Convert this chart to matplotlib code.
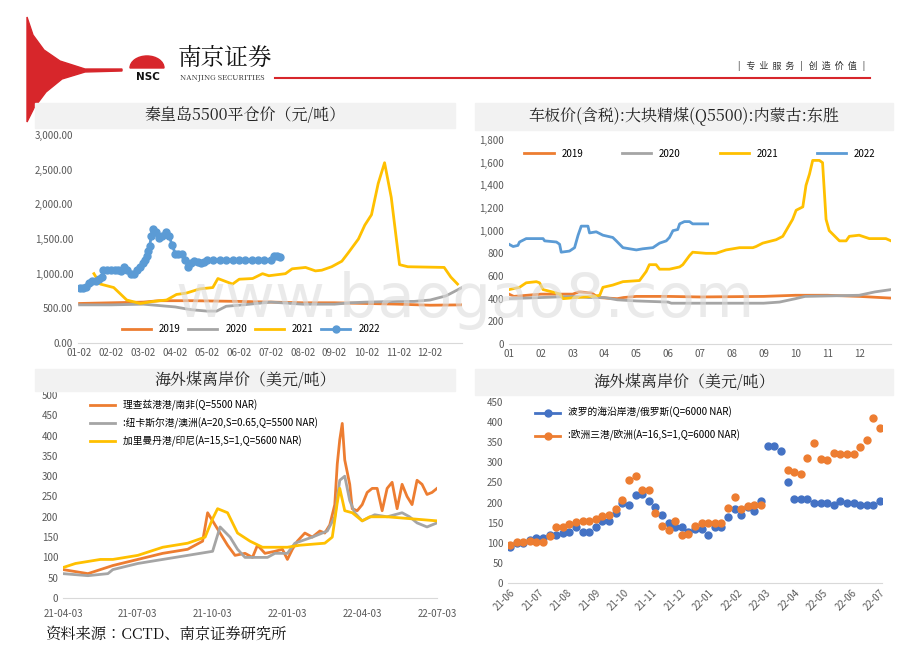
import matplotlib
matplotlib.use("Agg")
import matplotlib.pyplot as plt
from matplotlib import font_manager as fm
import numpy as np
from matplotlib.patches import Rectangle, Polygon, Wedge
from matplotlib.ticker import FuncFormatter

sans_name, serif_fp = None, None
for f in sorted(fm.findSystemFonts()):
    if 'CJK' not in f:
        continue
    if sans_name is None and 'Sans' in f and 'Regular' in f:
        try:
            fm.fontManager.addfont(f)
            sans_name = fm.FontProperties(fname=f).get_name()
        except Exception:
            pass
    if serif_fp is None and 'Serif' in f and 'Regular' in f:
        serif_fp = f
plt.rcParams['font.family'] = [n for n in [sans_name, 'Noto Sans CJK SC', 'DejaVu Sans'] if n]
TITLE_KW = {'fontproperties': fm.FontProperties(fname=serif_fp)} if serif_fp else {}

C_OR, C_GR, C_YE, C_BL = '#ED7D31', '#A5A5A5', '#FFC000', '#5B9BD5'

# ---- Panel 1: 秦皇岛5500平仓价 (x in months from 01-02)
p1_ticks = ['01-02','02-02','03-02','04-02','05-02','06-02','07-02','08-02','09-02','10-02','11-02','12-02']
p1_2019_x = [0, 1, 2, 2.5, 3.5, 5, 6, 7, 8, 9, 10, 11, 12]
p1_2019_y = [570, 580, 590, 610, 610, 600, 590, 580, 580, 570, 560, 545, 550]
p1_2020_x = [0, 1, 2, 2.5, 3, 3.5, 4, 4.3, 4.6, 5, 6, 7, 8, 8.5, 9, 10, 10.5, 11, 11.5, 12]
p1_2020_y = [550, 550, 560, 540, 520, 480, 460, 460, 530, 545, 590, 560, 560, 580, 590, 600, 600, 620, 680, 800]
p1_2021_x = [0.45, 0.65, 1.07, 1.48, 1.9, 2.31, 2.73, 3.04, 3.35, 3.77, 4.18, 4.34, 4.8, 5.01, 5.43, 5.74, 5.94, 6.46, 6.67, 7.09, 7.4, 7.6, 7.91, 8.23, 8.43, 8.75, 8.95, 9.16, 9.37, 9.57, 9.78, 9.94, 10.04, 10.3, 11.44, 11.65, 11.86]
p1_2021_y = [1000, 850, 800, 620, 570, 600, 620, 700, 720, 780, 800, 930, 850, 920, 930, 1000, 970, 1000, 1070, 1090, 1040, 1050, 1100, 1180, 1300, 1500, 1700, 1850, 2300, 2600, 2100, 1500, 1130, 1100, 1090, 950, 850]
p1_2022_x = [0, 0.1, 0.2, 0.3, 0.4, 0.5, 0.6, 0.7, 0.75, 0.85, 1.0, 1.1, 1.2, 1.3, 1.4, 1.5, 1.6, 1.7, 1.8, 1.9, 2.0, 2.05, 2.1, 2.15, 2.2, 2.25, 2.3, 2.35, 2.4, 2.5, 2.6, 2.7, 2.8, 2.9, 3.0, 3.1, 3.2, 3.3, 3.4, 3.5, 3.6, 3.7, 3.8, 3.9, 4.0, 4.2, 4.4, 4.6, 4.8, 5.0, 5.2, 5.4, 5.6, 5.8, 6.0, 6.1, 6.2, 6.3]
p1_2022_y = [790, 790, 810, 870, 890, 900, 920, 950, 1050, 1050, 1050, 1060, 1060, 1040, 1100, 1060, 1000, 990, 1050, 1100, 1150, 1200, 1250, 1330, 1400, 1550, 1650, 1600, 1600, 1520, 1550, 1600, 1550, 1420, 1290, 1290, 1290, 1200, 1100, 1150, 1180, 1170, 1150, 1170, 1190, 1200, 1200, 1200, 1200, 1200, 1200, 1200, 1200, 1200, 1200, 1250, 1250, 1240]

# ---- Panel 2: 东胜大块精煤 (x in months, 0 = '01')
p2_ticks = ['01','02','03','04','05','06','07','08','09','10','11','12']
p2_2019_x = [0, 0.15, 1.0, 2.0, 2.2, 2.6, 2.8, 3.4, 3.6, 4.0, 5.0, 6, 8, 9, 10, 11, 12]
p2_2019_y = [440, 420, 440, 440, 460, 450, 410, 400, 410, 420, 420, 415, 420, 430, 430, 420, 405]
p2_2020_x = [0, 2, 2.5, 3, 3.4, 4, 5.0, 5.1, 6, 8, 8.5, 9, 9.3, 11, 11.5, 12]
p2_2020_y = [400, 420, 410, 410, 390, 380, 370, 360, 360, 360, 370, 400, 420, 430, 460, 480]
p2_2021_x = [0, 0.33, 0.54, 0.86, 0.96, 1.07, 1.49, 1.6, 1.7, 2.11, 2.64, 2.85, 2.95, 3.26, 3.58, 4.1, 4.31, 4.41, 4.62, 4.73, 5.04, 5.36, 5.46, 5.67, 5.77, 6.19, 6.5, 6.82, 7.24, 7.66, 7.76, 7.97, 8.39, 8.6, 8.91, 9.02, 9.23, 9.33, 9.44, 9.54, 9.75, 9.85, 9.96, 10.06, 10.38, 10.59, 10.69, 11.0, 11.32, 11.84, 12.0]
p2_2021_y = [480, 500, 540, 550, 540, 480, 450, 440, 400, 410, 420, 430, 500, 520, 550, 560, 640, 700, 700, 660, 660, 680, 700, 780, 810, 800, 800, 830, 850, 850, 860, 890, 920, 950, 1100, 1180, 1210, 1400, 1500, 1620, 1620, 1600, 1100, 1000, 910, 910, 950, 960, 930, 930, 910]
p2_2022_x = [0, 0.13, 0.28, 0.33, 0.54, 1.07, 1.12, 1.49, 1.59, 1.64, 1.9, 2.06, 2.17, 2.27, 2.48, 2.53, 2.74, 2.95, 3.26, 3.37, 3.58, 4.0, 4.2, 4.52, 4.73, 4.94, 5.04, 5.15, 5.3, 5.36, 5.51, 5.67, 5.77, 6.24]
p2_2022_y = [880, 860, 870, 900, 930, 930, 910, 900, 880, 810, 820, 850, 960, 1040, 1040, 980, 990, 960, 940, 910, 850, 830, 840, 850, 890, 910, 940, 1000, 1010, 1060, 1080, 1080, 1060, 1060]

# ---- Panel 3: 海外煤离岸价 (x in months from 21-04-03)
p3_ticks = ['21-04-03', '21-07-03', '21-10-03', '22-01-03', '22-04-03', '22-07-03']
p3_or_x = [0, 0.5, 1.0, 1.5, 2, 3, 4, 5, 5.6, 5.8, 6.0, 6.3, 6.6, 6.9, 7.3, 7.6, 7.8, 8.1, 8.5, 8.8, 9.0, 9.2, 9.4, 9.7, 10.0, 10.3, 10.5, 10.7, 10.9, 11.0, 11.1, 11.2, 11.3, 11.5, 11.6, 11.8, 12.0, 12.2, 12.4, 12.6, 12.8, 13.0, 13.2, 13.4, 13.6, 13.8, 14.0, 14.2, 14.4, 14.6, 14.8, 15.0]
p3_or_y = [70, 65, 60, 70, 80, 95, 110, 120, 140, 210, 190, 160, 130, 105, 110, 100, 130, 110, 115, 120, 95, 120, 140, 160, 150, 165, 160, 180, 230, 330, 390, 430, 340, 280, 220, 215, 230, 260, 270, 270, 215, 270, 285, 220, 280, 250, 230, 290, 280, 255, 260, 270]
p3_gr_x = [0, 1, 1.8, 2, 3, 4, 5, 6, 6.3, 6.7, 7.0, 7.3, 7.7, 8.2, 8.5, 9, 9.3, 10, 10.6, 10.9, 11.1, 11.3, 11.5, 11.7, 12, 12.5, 13, 13.6, 13.9, 14.2, 14.6, 15]
p3_gr_y = [60, 55, 60, 70, 85, 95, 105, 115, 175, 150, 120, 100, 100, 100, 110, 110, 135, 150, 165, 200, 290, 300, 240, 210, 190, 205, 200, 210, 200, 185, 175, 185]
p3_ye_x = [0, 0.5, 1.0, 1.5, 2, 3, 4, 5, 5.7, 6.0, 6.2, 6.6, 7.0, 7.5, 8.0, 9, 9.5, 10.5, 10.8, 11.0, 11.1, 11.3, 11.6, 12.0, 12.3, 13, 14, 15]
p3_ye_y = [75, 85, 90, 95, 95, 105, 125, 135, 150, 195, 220, 210, 160, 140, 125, 125, 130, 135, 150, 235, 270, 215, 210, 190, 200, 200, 195, 190]

# ---- Panel 4: 海外煤离岸价 scatter (x = observation index)
p4_ticks = ['21-06','21-07','21-08','21-09','21-10','21-11','21-12','22-01','22-02','22-03','22-04','22-05','22-06','22-07']
p4_ru = [90,100,100,107,112,113,120,120,125,127,140,128,128,140,155,153,175,198,195,220,222,205,188,168,148,138,138,128,135,135,120,140,140,165,183,170,188,178,205,340,340,328,250,210,210,210,200,200,200,195,205,200,200,195,195,195,205]
p4_eu = [95,102,103,104,103,103,117,140,140,146,152,154,154,160,167,170,185,207,255,265,230,230,175,142,133,153,120,123,142,148,150,148,148,186,213,185,192,195,195,np.nan,np.nan,np.nan,282,276,272,312,348,308,306,322,320,320,320,338,355,410,385]

fig = plt.figure(figsize=(9.2, 6.51), dpi=100)
W, H = 920, 651
def fx(x): return x / W
def fy(y): return 1 - y / H

# ---- header
sw = [(27, 17), (33, 35), (44, 50), (60, 61), (85, 69), (122, 69), (122, 71), (85, 72), (62, 79), (46, 92), (34, 108), (27, 122)]
fig.patches.append(Polygon([[fx(a), fy(b)] for a, b in sw], closed=True, transform=fig.transFigure, color='#D7262B', zorder=0))
fig.add_artist(plt.Line2D([fx(275), fx(870)], [fy(78), fy(78)], transform=fig.transFigure, color='#D7262B', lw=1.5))
fig.patches.append(Wedge((fx(147), fy(68)), fx(17), 0, 180, transform=fig.transFigure, color='#D7262B'))
fig.text(fx(148), fy(77), 'NSC', fontsize=7.5, fontweight='bold', color='#111111', ha='center', va='center', family='DejaVu Sans')
fig.text(fx(178), fy(58), '南京证券', fontsize=17, fontweight='bold', ha='left', va='center', color='#111111', **TITLE_KW)
fig.text(fx(180), fy(77), 'NANJING SECURITIES', fontsize=5.5, ha='left', va='center', color='#222222', **TITLE_KW)
fig.text(fx(865), fy(66), '|   专  业  服  务   |   创  造  价  值   |', fontsize=6.5, ha='right', va='center', color='#333333')

# watermark
fig.text(fx(465), fy(300), 'www.baogao8.com', fontsize=44, color='#DDDDDD', alpha=0.6, ha='center', va='center', zorder=0, family='DejaVu Sans')

def title_band(x0, y0, x1, y1, text, size=11.5):
    fig.patches.append(Rectangle((fx(x0), fy(y1)), fx(x1 - x0), fy(y0) - fy(y1), transform=fig.transFigure, color='#F2F2F2', zorder=0))
    fig.text(fx((x0 + x1) / 2), fy((y0 + y1) / 2), text, fontsize=size, ha='center', va='center', color='#222222', **TITLE_KW)

title_band(35, 103, 455, 128, '秦皇岛5500平仓价（元/吨）')
title_band(475, 103, 893, 130, '车板价(含税):大块精煤(Q5500):内蒙古:东胜')
title_band(35, 369, 455, 391, '海外煤离岸价（美元/吨）')
title_band(475, 369, 893, 395, '海外煤离岸价（美元/吨）')

def style(ax):
    for s in ['top', 'right', 'left']:
        ax.spines[s].set_visible(False)
    ax.spines['bottom'].set_color('#D9D9D9')
    ax.tick_params(length=0, labelsize=7, colors='#595959')
    ax.patch.set_alpha(0)

# ---- P1
ax1 = fig.add_axes([fx(78), fy(343), fx(384), fy(135) - fy(343)])
ax1.plot(p1_2019_x, p1_2019_y, color=C_OR, lw=2, label='2019')
ax1.plot(p1_2020_x, p1_2020_y, color=C_GR, lw=2, label='2020')
ax1.plot(p1_2021_x, p1_2021_y, color=C_YE, lw=2, label='2021')
ax1.plot(p1_2022_x, p1_2022_y, color=C_BL, lw=2, marker='o', ms=5, label='2022')
ax1.set_xlim(-0.05, 12)
ax1.set_ylim(0, 3000)
ax1.set_yticks(np.arange(0, 3001, 500))
ax1.yaxis.set_major_formatter(FuncFormatter(lambda v, p: f'{v:,.2f}'))
ax1.set_xticks(range(len(p1_ticks)))
ax1.set_xticklabels(p1_ticks)
style(ax1)
ax1.legend(loc='lower center', bbox_to_anchor=(0.45, 0.0), ncol=4, frameon=False, fontsize=7, handlelength=3, columnspacing=0.8)

# ---- P2
ax2 = fig.add_axes([fx(509), fy(344), fx(382), fy(140) - fy(344)])
ax2.plot(p2_2019_x, p2_2019_y, color=C_OR, lw=2, label='2019')
ax2.plot(p2_2020_x, p2_2020_y, color=C_GR, lw=2, label='2020')
ax2.plot(p2_2021_x, p2_2021_y, color=C_YE, lw=2, label='2021')
ax2.plot(p2_2022_x, p2_2022_y, color=C_BL, lw=2, label='2022')
ax2.set_xlim(0, 12)
ax2.set_ylim(0, 1800)
ax2.set_yticks(np.arange(0, 1801, 200))
ax2.yaxis.set_major_formatter(FuncFormatter(lambda v, p: f'{v:,.0f}'))
ax2.set_xticks(range(len(p2_ticks)))
ax2.set_xticklabels(p2_ticks)
style(ax2)
ax2.legend(loc='upper center', bbox_to_anchor=(0.5, 1.0), ncol=4, frameon=False, fontsize=7, handlelength=3, columnspacing=4)

# ---- P3
ax3 = fig.add_axes([fx(63), fy(598), fx(374), fy(395) - fy(598)])
ax3.plot(p3_or_x, p3_or_y, color=C_OR, lw=2, label='理查兹港港/南非(Q=5500 NAR)')
ax3.plot(p3_gr_x, p3_gr_y, color=C_GR, lw=2, label=':纽卡斯尔港/澳洲(A=20,S=0.65,Q=5500 NAR)')
ax3.plot(p3_ye_x, p3_ye_y, color=C_YE, lw=2, label='加里曼丹港/印尼(A=15,S=1,Q=5600 NAR)')
ax3.set_xlim(0, 15)
ax3.set_ylim(0, 500)
ax3.set_yticks(np.arange(0, 501, 50))
ax3.set_xticks(np.arange(0, 16, 3))
ax3.set_xticklabels(p3_ticks)
ax3.tick_params(axis='x', pad=8)
style(ax3)
ax3.legend(loc='upper left', bbox_to_anchor=(0.05, 1.02), frameon=False, fontsize=7, handlelength=2.5, labelspacing=0.7)

# ---- P4
ax4 = fig.add_axes([fx(508), fy(583), fx(374), fy(402) - fy(583)])
idx = np.arange(len(p4_ru))
ax4.plot(idx, p4_ru, color='#4472C4', lw=0, marker='o', ms=5, label='波罗的海沿岸港/俄罗斯(Q=6000 NAR)')
ax4.plot(idx, p4_eu, color=C_OR, lw=0, marker='o', ms=5, label=':欧洲三港/欧洲(A=16,S=1,Q=6000 NAR)')
ax4.set_xlim(-0.3, len(p4_ru) - 0.7)
ax4.set_ylim(0, 450)
ax4.set_yticks(np.arange(0, 451, 50))
ax4.set_xticks(np.linspace(0, len(p4_ru) - 1, len(p4_ticks)))
ax4.set_xticklabels(p4_ticks, rotation=45, ha='right', rotation_mode='anchor')
style(ax4)
leg = ax4.legend(loc='upper left', bbox_to_anchor=(0.05, 1.02), frameon=False, fontsize=7, handlelength=2.5, labelspacing=1.2)
for h in leg.legend_handles:
    h.set_linestyle('-'); h.set_linewidth(2)

fig.text(fx(45), fy(635), '资料来源：CCTD、南京证券研究所', fontsize=11, ha='left', va='center', color='#111111', **TITLE_KW)

fig.savefig('out.png', dpi=100)
